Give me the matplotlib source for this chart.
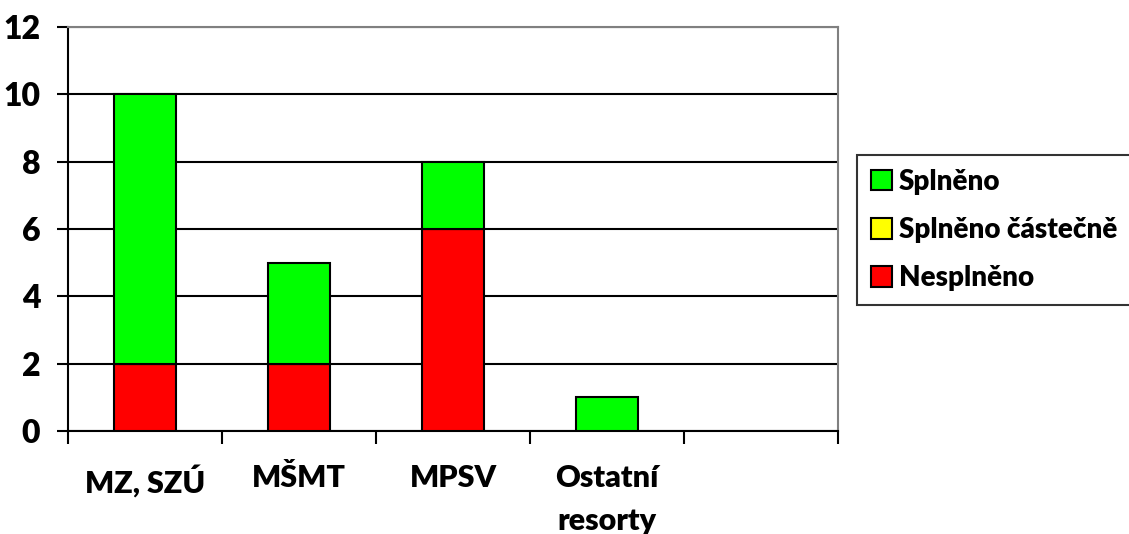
import numpy as np
import matplotlib.pyplot as plt

categories = ["MZ, SZÚ", "MŠMT", "MPSV", "Ostatní\nresorty", ""]
nesplneno = [2, 2, 6, 0]
castecne = [0, 0, 0, 0]
splneno = [8, 3, 2, 1]

plt.rcParams['font.family'] = ['Lato', 'DejaVu Sans']
plt.rcParams['font.weight'] = 'heavy'

fig = plt.figure(figsize=(11.29, 5.34), dpi=100)
ax = fig.add_axes([68/1129, 1 - 431/534, (838 - 68)/1129, (431 - 27)/534])

x = np.arange(len(nesplneno))
w = 0.4
kw = dict(width=w, edgecolor='black', linewidth=1.5, zorder=3)
b_red = ax.bar(x, nesplneno, color='#ff0000', label='Nesplněno', **kw)
bottom2 = np.array(nesplneno)
b_yel = ax.bar(x, castecne, bottom=bottom2, color='#ffff00', label='Splněno částečně', **kw)
bottom3 = bottom2 + np.array(castecne)
b_grn = ax.bar(x, splneno, bottom=bottom3, color='#00ff00', label='Splněno', **kw)

ax.set_xlim(-0.5, len(categories) - 0.5)
ax.set_ylim(0, 12)
ax.set_yticks(range(0, 13, 2))
ax.yaxis.grid(True, color='black', linewidth=1.5, zorder=0)
ax.set_axisbelow(True)

ax.set_xticks(range(len(categories)))
ax.set_xticklabels(categories, fontsize=22, fontweight='heavy', linespacing=1.65, va='top')
ax.set_xticks(np.arange(-0.5, len(categories), 1), minor=True)
ax.tick_params(axis='x', which='major', length=0, pad=24)
ax.tick_params(axis='x', which='minor', length=9, width=1.5, direction='out')
ax.tick_params(axis='y', length=8, width=1.5, direction='out', pad=12, labelsize=23)
for lab in ax.get_yticklabels():
    lab.set_fontweight('heavy')

ax.spines['left'].set_linewidth(1.5)
ax.spines['bottom'].set_linewidth(1.5)
ax.spines['top'].set_color('#808080')
ax.spines['right'].set_color('#808080')
ax.spines['top'].set_linewidth(1.5)
ax.spines['right'].set_linewidth(1.5)

leg = fig.legend([b_grn, b_yel, b_red], ['Splněno', 'Splněno částečně', 'Nesplněno'],
                 loc='upper left', bbox_to_anchor=(857/1129, 1 - 155/534),
                 prop={'size': 20, 'weight': 'heavy'}, frameon=True, fancybox=False,
                 edgecolor='black', handlelength=0.75, handleheight=0.75,
                 handletextpad=0.25, labelspacing=0.8, borderpad=0.5, borderaxespad=0)
leg.get_frame().set_linewidth(1.5)

fig.savefig("out.png", dpi=100)
